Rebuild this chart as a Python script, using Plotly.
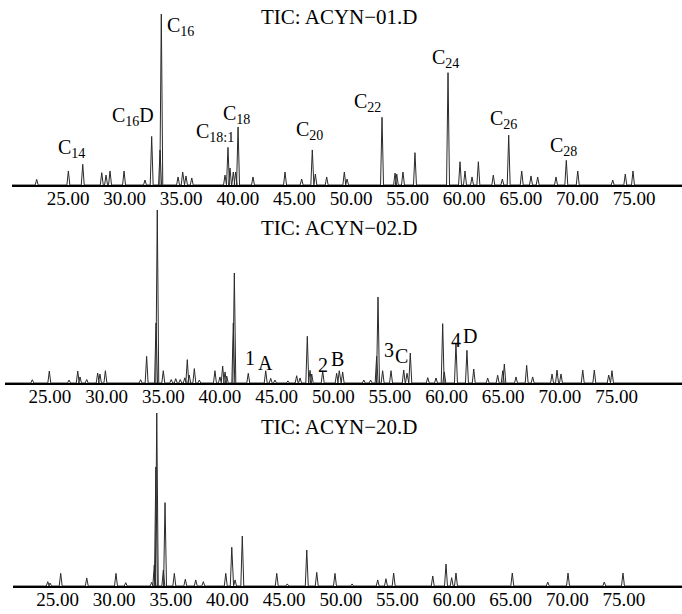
import plotly.graph_objects as go

# ---------------- data (retention time in min, relative abundance %) ----------------
p1_rt = [22.23, 25.03, 26.30, 27.98, 28.36, 28.71, 29.95, 31.80, 32.39, 33.13, 33.24,
         34.72, 35.13, 35.42, 35.93, 38.87, 39.13, 39.31, 39.60, 39.81, 40.02, 41.34,
         44.17, 45.64, 46.58, 46.85, 47.85, 49.41, 49.65, 52.74, 53.89, 54.04, 54.59,
         55.65, 58.57, 59.63, 60.07, 60.69, 61.25, 62.57, 63.37, 63.93, 65.08, 65.90,
         66.49, 68.11, 69.02, 70.03, 73.12, 74.23, 74.91]
p1_ab = [3.3, 8.2, 12.1, 7.2, 5.8, 8.2, 8.2, 2.9, 28.4, 20.5, 100,
         4.7, 7.6, 5.3, 4.1, 5.8, 22.0, 9.9, 7.6, 7.6, 33.9, 4.7,
         7.6, 3.5, 20.5, 6.4, 4.7, 7.6, 3.5, 39.6, 7.0, 6.4, 7.6,
         18.9, 65.7, 13.6, 8.2, 4.7, 13.6, 5.8, 3.5, 29.1, 8.2, 5.3,
         4.7, 4.7, 14.4, 8.2, 2.9, 6.4, 8.2]

p2_rt = [23.44, 24.94, 26.68, 27.45, 27.65, 28.24, 29.21, 29.41, 29.89, 33.00, 33.53,
         34.36, 34.47, 35.00, 35.70, 36.10, 36.50, 36.90, 37.12, 37.29, 37.74, 38.18,
         39.56, 40.00, 40.24, 40.45, 40.60, 41.18, 41.27, 42.50, 44.04, 44.48, 44.86,
         46.00, 46.77, 47.07, 47.71, 47.95, 48.10, 49.07, 50.30, 50.53, 50.83, 52.70,
         53.30, 53.83, 53.95, 54.36, 55.10, 56.22, 56.51, 56.80, 58.34, 59.07, 59.66,
         59.80, 60.83, 61.80, 62.40, 63.63, 64.51, 64.96, 65.10, 66.13, 67.07, 67.60,
         69.31, 69.75, 70.10, 72.02, 73.04, 74.31, 74.60]
p2_ab = [1.9, 6.9, 1.7, 6.9, 3.5, 2.0, 5.8, 5.2, 7.1, 1.9, 15.4,
         34.7, 100, 7.1, 2.0, 2.5, 2.0, 3.0, 13.5, 4.6, 8.3, 1.7,
         7.1, 3.5, 9.8, 6.4, 4.0, 34.7, 63.6, 5.6, 7.1, 2.7, 1.7,
         1.2, 4.2, 2.9, 27.0, 7.3, 5.2, 6.9, 5.6, 7.1, 6.4, 1.7,
         1.7, 15.4, 49.7, 7.1, 7.1, 7.5, 5.6, 17.3, 3.1, 2.9, 34.3,
         6.4, 23.1, 18.9, 8.1, 2.9, 4.5, 7.1, 11.0, 3.5, 10.2, 3.5,
         5.2, 7.5, 5.2, 7.5, 7.5, 4.6, 7.1]

p3_rt = [24.14, 24.34, 25.28, 27.58, 30.16, 31.02, 33.31, 33.54, 33.68, 33.76, 34.34,
         34.49, 35.31, 36.28, 37.20, 37.87, 39.85, 40.38, 40.67, 41.31, 44.35, 45.28,
         47.00, 47.88, 49.49, 51.00, 53.26, 53.99, 54.67, 58.12, 59.29, 59.79, 60.17,
         65.14, 68.27, 70.06, 73.26, 74.91]
p3_ab = [2.5, 1.7, 7.3, 4.6, 7.3, 1.9, 2.1, 12.1, 68.8, 100, 9.2,
         48.2, 7.3, 3.9, 3.5, 2.5, 7.3, 22.4, 3.5, 28.9, 7.3, 1.2,
         20.8, 7.9, 7.3, 1.2, 3.5, 4.2, 7.5, 5.8, 12.7, 4.8, 7.5,
         7.5, 2.3, 7.5, 2.3, 7.5]

tick_vals = [25, 30, 35, 40, 45, 50, 55, 60, 65, 70, 75]
tick_text = ["25.00", "30.00", "35.00", "40.00", "45.00", "50.00",
             "55.00", "60.00", "65.00", "70.00", "75.00"]
titles = ["TIC: ACYN\u221201.D", "TIC: ACYN\u221202.D", "TIC: ACYN\u221220.D"]

p1_labels = ["C<sub>14</sub>", "C<sub>16</sub>D", "C<sub>16</sub>", "C<sub>18:1</sub>",
             "C<sub>18</sub>", "C<sub>20</sub>", "C<sub>22</sub>", "C<sub>24</sub>",
             "C<sub>26</sub>", "C<sub>28</sub>"]
p2_labels = ["1", "A", "2", "B", "3", "C", "4", "D"]

# ---------------- layout helpers ----------------
W, H = 682, 614
def py(px):
    return 1 - px / H
def pxx(px):
    return px / W

HALF = 0.13  # half base width of drawn peaks (min)

def spikes(rt, ab, x0, x1):
    xs, ys = [x0], [0]
    for t, a in sorted(zip(rt, ab)):
        xs += [t - HALF, t, t + HALF]
        ys += [0, a, 0]
    xs.append(x1)
    ys.append(0)
    return xs, ys

panels = [
    # rt, ab, x range, x-domain start px, baseline px, top px, title y px
    (p1_rt, p1_ab, [20.05, 79.24], 12, 185, 14, 17),
    (p2_rt, p2_ab, [21.03, 80.78], 5, 383, 210, 228),
    (p3_rt, p3_ab, [21.07, 80.12], 13, 586, 413, 427),
]

fig = go.Figure()
FONT = "Liberation Serif, Times New Roman, serif"
layout = dict(
    width=W, height=H, margin=dict(l=0, r=0, t=0, b=0),
    paper_bgcolor="white", plot_bgcolor="white", showlegend=False,
    font=dict(family=FONT, size=19, color="black"),
)
annotations = []
for i, (rt, ab, xr, xstart, base, top, ty) in enumerate(panels):
    n = "" if i == 0 else str(i + 1)
    xs, ys = spikes(rt, ab, xr[0], xr[1])
    fig.add_trace(go.Scatter(x=xs, y=ys, mode="lines",
                             line=dict(color="#2a2a2a", width=1),
                             xaxis="x" + n, yaxis="y" + n, hoverinfo="skip"))
    layout["xaxis" + n] = dict(
        domain=[pxx(xstart), 1], range=xr, anchor="y" + n,
        tickvals=tick_vals, ticktext=tick_text, ticks="",
        ticklabelstandoff=-5,
        showgrid=False, zeroline=False, showline=True, linecolor="black",
        linewidth=1.5, tickfont=dict(family=FONT, size=19, color="black"),
    )
    layout["yaxis" + n] = dict(
        domain=[py(base), py(top)], range=[0, 100], anchor="x" + n,
        visible=False, showgrid=False, zeroline=False,
    )
    annotations.append(dict(text=titles[i], x=pxx(339), y=py(ty), xref="paper",
                            yref="paper", xanchor="center", yanchor="middle",
                            showarrow=False, font=dict(family=FONT, size=21)))

p1_pos = [(71, 148), (133, 117), (180, 26), (215, 132), (236, 115), (309, 130),
          (367, 103), (445, 58), (503, 120), (563, 146)]
for t, (x, y) in zip(p1_labels, p1_pos):
    annotations.append(dict(text=t, x=pxx(x), y=py(y), xref="paper", yref="paper",
                            xanchor="center", yanchor="middle", showarrow=False,
                            font=dict(family=FONT, size=20)))
p2_pos = [(250, 358), (265.5, 363), (322.5, 365), (337.5, 359),
          (389, 350), (401.5, 356), (456, 340), (469.5, 336)]
for t, (x, y) in zip(p2_labels, p2_pos):
    annotations.append(dict(text=t, x=pxx(x), y=py(y), xref="paper", yref="paper",
                            xanchor="center", yanchor="middle", showarrow=False,
                            font=dict(family=FONT, size=20)))

layout["annotations"] = annotations
fig.update_layout(**layout)
fig.write_html("out.html", config={"displayModeBar": False},
               post_script="document.body.style.margin='0';")
